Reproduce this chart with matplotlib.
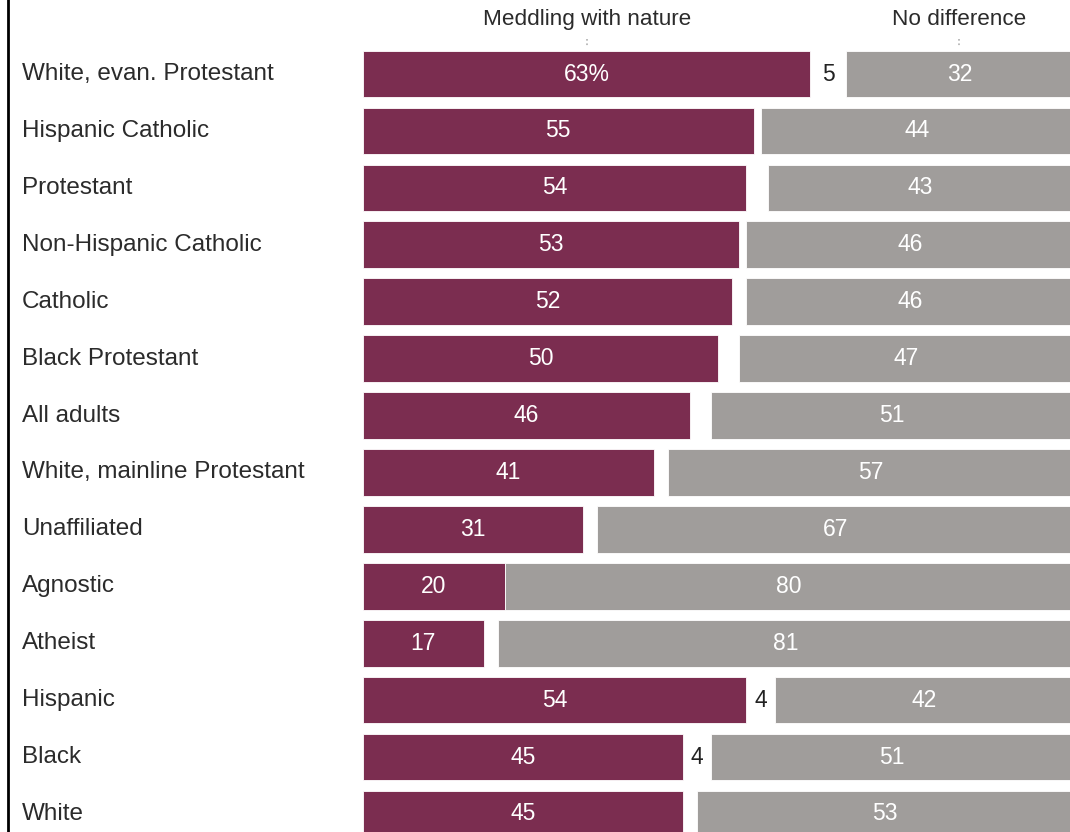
import matplotlib.pyplot as plt
import matplotlib.transforms as mtransforms
from matplotlib.lines import Line2D
import numpy as np

# data
groups = ['White, evan. Protestant', 'Hispanic Catholic', 'Protestant',
          'Non-Hispanic Catholic', 'Catholic', 'Black Protestant', 'All adults',
          'White, mainline Protestant', 'Unaffiliated', 'Agnostic', 'Atheist',
          'Hispanic', 'Black', 'White']
meddling = [63, 55, 54, 53, 52, 50, 46, 41, 31, 20, 17, 54, 45, 45]
no_diff = [32, 44, 43, 46, 46, 47, 51, 57, 67, 80, 81, 42, 51, 53]
gap_shown = [5, None, None, None, None, None, None, None, None, None, None, 4, 4, None]
headers = ['Meddling with nature', 'No difference']

purple = '#7b2d50'
gray = '#a09d9b'
text_col = '#2b2b2b'
font = 'Liberation Sans'

W, H = 1070, 832
fig = plt.figure(figsize=(W / 100, H / 100), dpi=100)
ax = fig.add_axes([363 / W, 0, 710 / W, 1])

row_px = 56.92
top_px = 74
ax.set_ylim(13 + (H - 814) / row_px, -top_px / row_px)
ax.set_xlim(0, 100)
ax.axis('off')

y = np.arange(len(groups))
starts = [m + (100 - m - n) for m, n in zip(meddling, no_diff)]
ax.barh(y, meddling, height=0.82, color=purple, edgecolor='white', linewidth=0.6)
ax.barh(y, no_diff, left=starts, height=0.82, color=gray, edgecolor='white', linewidth=0.6)

for i in range(len(groups)):
    lab = f'{meddling[i]}%' if i == 0 else str(meddling[i])
    ax.text(meddling[i] / 2, i, lab, ha='center', va='center', color='white',
            fontsize=16.5, fontfamily=font)
    ax.text(starts[i] + no_diff[i] / 2, i, str(no_diff[i]), ha='center', va='center',
            color='white', fontsize=16.5, fontfamily=font)
    if gap_shown[i] is not None:
        ax.text(meddling[i] + gap_shown[i] / 2, i, str(gap_shown[i]), ha='center',
                va='center', color='#222222', fontsize=16.5, fontfamily=font)

# column headers over first row
hx = [meddling[0] / 2, starts[0] + no_diff[0] / 2]
for x, h in zip(hx, headers):
    ax.text(x, (19 - top_px) / row_px, h, ha='center', va='center', color=text_col,
            fontsize=16.2, fontfamily=font)
    ax.plot([x, x], [(39 - top_px) / row_px, (46 - top_px) / row_px], color='#b0b0b0',
            linestyle=':', linewidth=1.2)

# row labels
trans = mtransforms.blended_transform_factory(fig.transFigure, ax.transData)
for i, g in enumerate(groups):
    ax.text(22 / W, i, g, transform=trans, ha='left', va='center', color=text_col,
            fontsize=17.5, fontfamily=font)

fig.add_artist(Line2D([8 / W, 8 / W], [0, 1], color='black', linewidth=2))

fig.savefig('out.png', dpi=100)
